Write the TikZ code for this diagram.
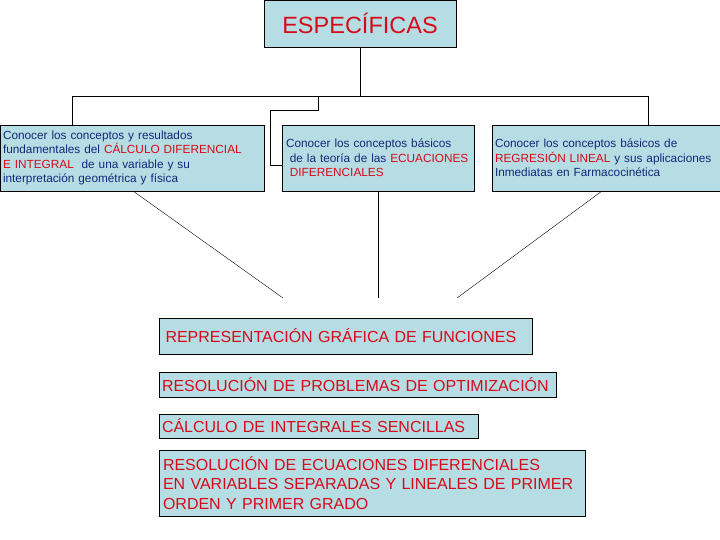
\documentclass[tikz,border=0pt]{standalone}
\usepackage{fontspec}
\setmainfont{Liberation Sans}
\definecolor{boxfill}{RGB}{183,221,228}
\definecolor{txtblue}{RGB}{20,40,120}
\definecolor{txtred}{RGB}{215,10,25}
\begin{document}
\begin{tikzpicture}[x=1pt,y=-1pt,
  bx/.style={draw=black,fill=boxfill,line width=0.8pt,inner sep=0pt,outer sep=0pt},
  sm/.style={text=txtblue,align=left,font=\fontsize{11.8}{14.6}\selectfont},
  bg/.style={text=txtred,align=left,font=\fontsize{16}{19.5}\selectfont},
  ln/.style={draw=black,line width=0.7pt},
  thin/.style={draw=black,line width=0.4pt}]
\useasboundingbox (0,0) rectangle (720,540);
\node[bx,minimum width=192,minimum height=47,text=txtred,font=\fontsize{23.5}{26}\selectfont] (top) at (360,23.5) {ESPECÍFICAS};
\node[bx,sm,minimum width=264,minimum height=66,text width=258] (b1) at (132,158) {Conocer los conceptos y resultados\\fundamentales del \textcolor{txtred}{CÁLCULO DIFERENCIAL}\\\textcolor{txtred}{E INTEGRAL}\ \ de una variable y su\\interpretación geométrica y física};
\node[bx,sm,minimum width=192,minimum height=66,text width=184] (b2) at (378,158) {Conocer los conceptos básicos\\ \ de la teoría de las \textcolor{txtred}{ECUACIONES}\\ \ \textcolor{txtred}{DIFERENCIALES}};
\node[bx,sm,minimum width=228,minimum height=66,text width=222] (b3) at (606,158) {Conocer los conceptos básicos de\\ \textcolor{txtred}{REGRESIÓN LINEAL} y sus aplicaciones\\ Inmediatas en Farmacocinética};
\node[bx,bg,minimum width=373,minimum height=36,text width=360] (c1) at (345.5,336) {REPRESENTACIÓN GRÁFICA DE FUNCIONES};
\node[bx,bg,minimum width=397,minimum height=25,text width=391] (c2) at (357.5,384.5) {RESOLUCIÓN DE PROBLEMAS DE OPTIMIZACIÓN};
\node[bx,bg,minimum width=319,minimum height=24,text width=313] (c3) at (318.5,426) {CÁLCULO DE INTEGRALES SENCILLAS};
\node[bx,bg,minimum width=426,minimum height=66,text width=418] (c4) at (372,483) {RESOLUCIÓN DE ECUACIONES DIFERENCIALES\\EN VARIABLES SEPARADAS Y LINEALES DE PRIMER\\ORDEN Y PRIMER GRADO};
\coordinate (j) at (360,96);
\draw[ln] (top.south) -- (j);
\draw[ln] (b1.north -| 72,0) -- (72,96) -- (648,96) -- (b3.north -| 648,0);
\draw[ln] (318,96) -- (318,110) -- (270,110) -- (270,165) -- (b2.west |- 0,165);
\coordinate (e1) at (283,298);
\coordinate (e2) at (378,298);
\coordinate (e3) at (457,298);
\draw[thin] (b1.south -| 133,0) -- (e1);
\draw[thin] (b2.south) -- (e2);
\draw[thin] (b3.south -| 602,0) -- (e3);
\end{tikzpicture}
\end{document}
